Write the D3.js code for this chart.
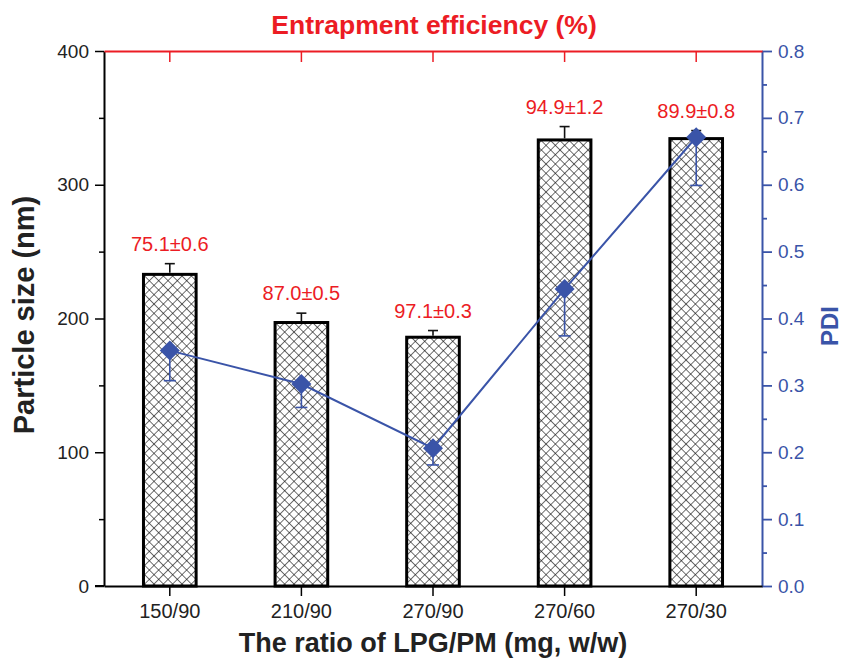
<!DOCTYPE html>
<html>
<head>
<meta charset="utf-8">
<script src="https://d3js.org/d3.v7.min.js"></script>
<style>
  body { margin: 0; background: #fff; }
  text { font-family: "Liberation Sans", Arial, sans-serif; }
</style>
</head>
<body>
<div id="chart"></div>
<script>
// values
const categories = ["150/90", "210/90", "270/90", "270/60", "270/30"];
const sizeMean = [233, 197, 186, 333.5, 334.5];   // particle size (nm)
const sizeErr  = [8, 7, 5, 10, 6];
const pdiMean  = [0.352, 0.302, 0.206, 0.444, 0.671];
const pdiErr   = [0.045, 0.035, 0.025, 0.07, 0.072];
const eeLabels = ["75.1±0.6", "87.0±0.5", "97.1±0.3", "94.9±1.2", "89.9±0.8"];
const sizeTicks = [0, 100, 200, 300, 400];
const pdiTicks  = [0, 0.1, 0.2, 0.3, 0.4, 0.5, 0.6, 0.7, 0.8];

const W = 844, H = 660;
const plotLeft = 104, plotRight = 762, plotTop = 51, plotBottom = 586;
const red = "#ec1c24", blue = "#3a54a8", dark = "#222";

const svg = d3.select("#chart").append("svg")
  .attr("width", W).attr("height", H);

// crosshatch pattern for the bars
const pat = svg.append("defs").append("pattern")
  .attr("id", "hatch")
  .attr("patternUnits", "userSpaceOnUse")
  .attr("width", 6.6).attr("height", 6.6)
  .attr("patternTransform", "rotate(45)");
pat.append("rect").attr("width", 6.6).attr("height", 6.6).attr("fill", "#fff");
pat.append("line").attr("x1", 0).attr("y1", 0).attr("x2", 0).attr("y2", 6.6)
  .attr("stroke", "#111").attr("stroke-width", 1.2);
pat.append("line").attr("x1", 0).attr("y1", 0).attr("x2", 6.6).attr("y2", 0)
  .attr("stroke", "#111").attr("stroke-width", 1.2);

// scales
const x = d3.scaleBand()
  .domain(categories)
  .range([plotLeft, plotRight])
  .paddingInner(0.6)
  .paddingOuter(0.3);
const y = d3.scaleLinear().domain([0, 400]).range([plotBottom, plotTop]);
const y2 = d3.scaleLinear().domain([0, 0.8]).range([plotBottom, plotTop]);
const cx = d => x(d) + x.bandwidth() / 2;

// bars
svg.append("g").selectAll("rect")
  .data(categories)
  .enter().append("rect")
  .attr("x", d => x(d))
  .attr("y", (d, i) => y(sizeMean[i]))
  .attr("width", x.bandwidth())
  .attr("height", (d, i) => y(0) - y(sizeMean[i]))
  .attr("fill", "url(#hatch)")
  .attr("stroke", "#000")
  .attr("stroke-width", 3);

// bar error bars (upper only)
const eb = svg.append("g").attr("stroke", "#111").attr("stroke-width", 1.6);
categories.forEach((c, i) => {
  eb.append("line")
    .attr("x1", cx(c)).attr("x2", cx(c))
    .attr("y1", y(sizeMean[i]) - 1.5).attr("y2", y(sizeMean[i] + sizeErr[i]));
  eb.append("line")
    .attr("x1", cx(c) - 5).attr("x2", cx(c) + 5)
    .attr("y1", y(sizeMean[i] + sizeErr[i])).attr("y2", y(sizeMean[i] + sizeErr[i]));
});

// entrapment efficiency labels
svg.append("g").selectAll("text")
  .data(categories)
  .enter().append("text")
  .attr("x", d => cx(d))
  .attr("y", (d, i) => y(sizeMean[i] + sizeErr[i]) - 13)
  .attr("text-anchor", "middle")
  .attr("fill", red)
  .style("font-size", "20px")
  .text((d, i) => eeLabels[i]);

// PDI error bars (lower only)
const pe = svg.append("g").attr("stroke", blue).attr("stroke-width", 1.6);
categories.forEach((c, i) => {
  pe.append("line")
    .attr("x1", cx(c)).attr("x2", cx(c))
    .attr("y1", y2(pdiMean[i])).attr("y2", y2(pdiMean[i] - pdiErr[i]));
  pe.append("line")
    .attr("x1", cx(c) - 6).attr("x2", cx(c) + 6)
    .attr("y1", y2(pdiMean[i] - pdiErr[i])).attr("y2", y2(pdiMean[i] - pdiErr[i]));
});

// PDI line
const line = d3.line()
  .x(d => cx(d))
  .y((d, i) => y2(pdiMean[i]));
svg.append("path")
  .datum(categories)
  .attr("fill", "none")
  .attr("stroke", blue)
  .attr("stroke-width", 2)
  .attr("d", line);

// diamonds
svg.append("g").selectAll("path")
  .data(categories)
  .enter().append("path")
  .attr("transform", (d, i) => `translate(${cx(d)},${y2(pdiMean[i])})`)
  .attr("d", "M0,-10L10,0L0,10L-10,0Z")
  .attr("fill", blue);

// left axis
const yAxis = svg.append("g")
  .attr("transform", `translate(${plotLeft},0)`)
  .call(d3.axisLeft(y).tickValues(sizeTicks).tickSize(9).tickPadding(6).tickSizeOuter(0));
yAxis.select(".domain").attr("stroke", "#000").attr("stroke-width", 2);
yAxis.selectAll(".tick line").attr("stroke", "#000").attr("stroke-width", 1.5);
yAxis.selectAll("text").attr("fill", dark).style("font-size", "19px");
svg.append("g")
  .attr("transform", `translate(${plotLeft},0)`)
  .call(d3.axisLeft(y).tickValues([50, 150, 250, 350]).tickSize(5).tickFormat("").tickSizeOuter(0))
  .call(g => g.select(".domain").remove())
  .selectAll("line").attr("stroke", "#000").attr("stroke-width", 1.5);

// right axis
const yAxis2 = svg.append("g")
  .attr("transform", `translate(${plotRight},0)`)
  .call(d3.axisRight(y2).tickValues(pdiTicks).tickSize(10).tickPadding(6).tickSizeOuter(0).tickFormat(d3.format(".1f")));
yAxis2.select(".domain").attr("stroke", blue).attr("stroke-width", 2);
yAxis2.selectAll(".tick line").attr("stroke", blue).attr("stroke-width", 1.8);
yAxis2.selectAll("text").attr("fill", blue).style("font-size", "19px");
svg.append("g")
  .attr("transform", `translate(${plotRight},0)`)
  .call(d3.axisRight(y2).tickValues([0.05, 0.15, 0.25, 0.35, 0.45, 0.55, 0.65, 0.75]).tickSize(5).tickFormat("").tickSizeOuter(0))
  .call(g => g.select(".domain").remove())
  .selectAll("line").attr("stroke", blue).attr("stroke-width", 1.8);

// bottom axis
const xAxis = svg.append("g")
  .attr("transform", `translate(0,${plotBottom})`)
  .call(d3.axisBottom(x).tickSize(10).tickPadding(8).tickSizeOuter(0));
xAxis.select(".domain").attr("stroke", "#000").attr("stroke-width", 2);
xAxis.selectAll(".tick line").attr("stroke", "#000").attr("stroke-width", 1.5);
xAxis.selectAll("text").attr("fill", dark).style("font-size", "20px");
svg.append("line")
  .attr("x1", plotLeft - 9).attr("x2", plotLeft)
  .attr("y1", plotBottom).attr("y2", plotBottom)
  .attr("stroke", "#000").attr("stroke-width", 2);

// top axis (red)
const topAxis = svg.append("g")
  .attr("transform", `translate(0,${plotTop})`)
  .call(d3.axisBottom(x).tickSize(11).tickFormat("").tickSizeOuter(0));
topAxis.select(".domain").attr("stroke", red).attr("stroke-width", 2);
topAxis.selectAll(".tick line").attr("stroke", red).attr("stroke-width", 1.5);

// titles
svg.append("text")
  .attr("x", 434).attr("y", 34)
  .attr("text-anchor", "middle")
  .attr("fill", red)
  .style("font-size", "26.5px").style("font-weight", "bold")
  .text("Entrapment efficiency (%)");

svg.append("text")
  .attr("x", 433).attr("y", 652)
  .attr("text-anchor", "middle")
  .attr("fill", dark)
  .style("font-size", "27px").style("font-weight", "bold")
  .text("The ratio of LPG/PM (mg, w/w)");

svg.append("text")
  .attr("transform", `translate(34,315) rotate(-90)`)
  .attr("text-anchor", "middle")
  .attr("fill", dark)
  .style("font-size", "29px").style("font-weight", "bold")
  .text("Particle size (nm)");

svg.append("text")
  .attr("transform", `translate(838,326) rotate(-90)`)
  .attr("text-anchor", "middle")
  .attr("fill", blue)
  .style("font-size", "24px").style("font-weight", "bold")
  .text("PDI");
</script>
</body>
</html>
